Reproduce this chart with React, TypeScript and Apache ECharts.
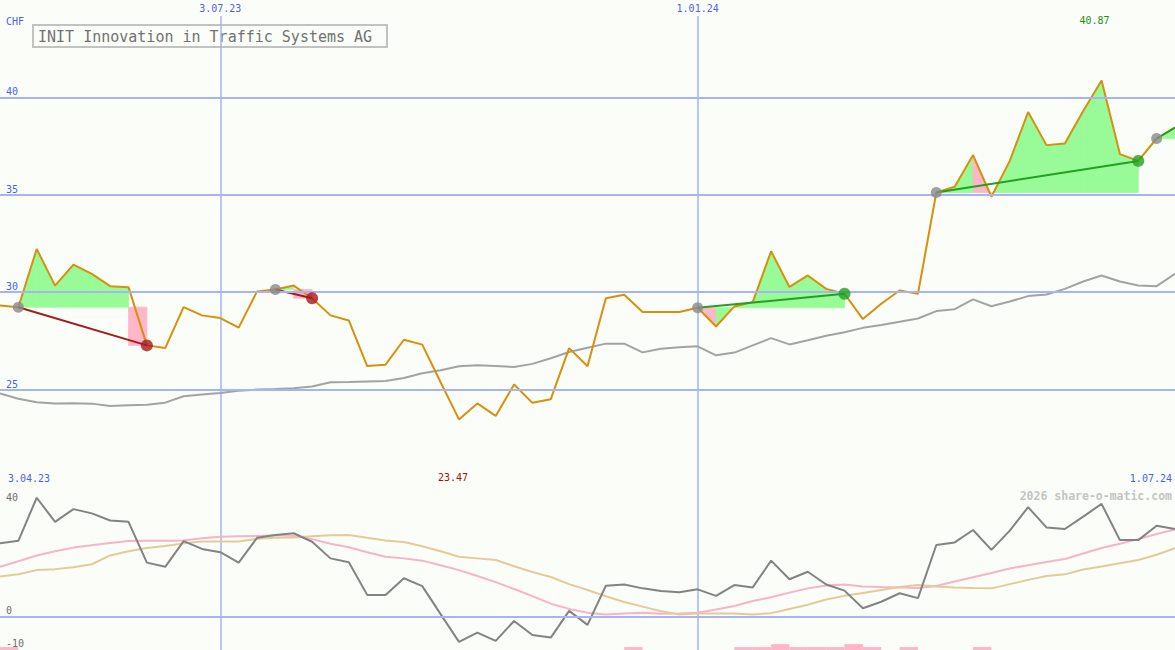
import React, { useEffect, useRef } from "react";
import * as echarts from "echarts";

const dates = ["10.04.23","17.04.23","24.04.23","1.05.23","8.05.23","15.05.23","22.05.23","29.05.23","5.06.23","12.06.23","19.06.23","26.06.23","3.07.23","10.07.23","17.07.23","24.07.23","31.07.23","7.08.23","14.08.23","21.08.23","28.08.23","4.09.23","11.09.23","18.09.23","25.09.23","2.10.23","9.10.23","16.10.23","23.10.23","30.10.23","6.11.23","13.11.23","20.11.23","27.11.23","4.12.23","11.12.23","18.12.23","25.12.23","1.01.24","8.01.24","15.01.24","22.01.24","29.01.24","5.02.24","12.02.24","19.02.24","26.02.24","4.03.24","11.03.24","18.03.24","25.03.24","1.04.24","8.04.24","15.04.24","22.04.24","29.04.24","6.05.24","13.05.24","20.05.24","27.05.24","3.06.24","10.06.24","17.06.24","24.06.24","1.07.24"];

const price = [29.32,29.23,32.22,30.34,31.42,30.94,30.31,30.26,27.27,27.13,
  29.23,28.81,28.67,28.18,30.04,30.14,30.34,29.69,28.81,28.55,
  26.21,26.28,27.56,27.31,25.38,23.47,24.29,23.65,25.26,24.32,
  24.51,27.13,26.20,29.69,29.87,28.98,28.98,28.98,29.20,28.24,
  29.27,29.49,32.10,30.27,30.86,30.17,29.92,28.62,29.41,30.09,
  29.92,35.12,35.41,37.04,34.90,36.74,39.25,37.55,37.63,39.30,
  40.87,37.09,36.74,37.89,38.45];

const movingAvg = [24.80,24.53,24.35,24.29,24.30,24.28,24.16,24.20,24.22,24.33,
  24.66,24.75,24.83,24.94,25.00,25.03,25.07,25.16,25.38,25.39,
  25.42,25.44,25.60,25.84,25.99,26.20,26.25,26.21,26.16,26.32,
  26.61,26.93,27.15,27.36,27.36,26.91,27.10,27.18,27.22,26.76,
  26.90,27.27,27.64,27.32,27.53,27.76,27.94,28.17,28.32,28.48,
  28.65,29.03,29.13,29.63,29.28,29.52,29.80,29.88,30.17,30.55,
  30.86,30.55,30.34,30.31,30.94];

const oscGray = [22.4,23.2,36.4,29.0,32.9,31.6,29.4,29.0,16.5,15.2,
  23.1,20.7,19.7,16.5,24.1,25.0,25.5,22.9,17.8,16.6,
  6.6,6.6,11.7,9.3,0.7,-7.8,-5.0,-7.5,-1.4,-5.7,
  -6.5,1.7,-2.6,9.4,9.8,8.6,7.8,7.4,8.3,6.3,
  9.6,8.9,17.1,11.4,13.7,9.8,7.9,2.5,4.5,7.1,
  5.6,21.9,22.7,26.5,20.4,26.3,33.5,27.3,26.8,30.6,
  34.5,23.4,23.4,27.8,26.8];

const oscPink = [15.2,16.9,18.7,20.0,21.1,21.8,22.5,23.1,23.2,23.2,
  23.3,24.0,24.4,24.6,24.7,24.9,24.7,23.7,22.3,21.2,
  19.7,18.3,17.8,17.1,15.7,14.2,12.4,10.5,8.4,6.2,
  3.9,2.3,1.1,0.6,0.9,1.1,0.8,0.9,1.1,2.1,
  3.2,4.7,5.9,7.3,8.6,9.5,9.8,9.2,9.0,8.9,
  8.7,9.3,10.7,12.0,13.3,14.7,15.7,16.7,17.6,19.3,
  21.0,22.3,23.7,25.3,26.7];

const oscTan = [12.2,12.9,14.2,14.5,15.1,16.0,18.7,20.0,21.0,21.6,
  22.4,23.0,23.0,23.0,23.8,24.1,24.2,24.6,24.9,25.0,
  24.1,23.3,22.8,21.5,20.0,18.3,17.8,17.3,15.4,13.6,
  12.1,9.9,8.1,6.2,4.4,3.0,1.6,0.6,0.9,0.9,
  0.9,0.6,1.0,2.3,3.6,5.2,6.3,7.2,8.1,9.0,
  9.6,9.2,8.9,8.7,8.6,9.9,11.2,12.4,12.9,14.4,
  15.3,16.3,17.3,18.9,20.9];

const barBands = [0, 34, 40, 41, 42, 43, 44, 45, 46, 47, 49, 53];
const barTops = [-9.4, -9.4, -9.4, -9.4, -8.5, -9.4, -9.4, -9.4, -8.5, -9.4, -9.4, -9.4];

const tradeEntry = [1, 15, 38, 51, 63];
const tradeExit = [8, 17, 46, 62, 64];
const tradeClosed = [true, true, true, true, false];

const upperTicks = [25, 30, 35, 40];
const lowerTicks = [0, -10];
const markedDates = ["3.07.23", "1.01.24"];

const BG = "#fbfdf8";
const GRID = "#a7b3f2";
const SEP = "#7787ea";
const BLUE = "#4d5ff0";
const MONO = "DejaVu Sans Mono";
const PRICE = "#d8900c";
const MA = "#a3a3a3";
const OSC = "#838383";
const PINKLINE = "#f8b3c9";
const TAN = "#e3cb99";
const GREENFILL = "#98fb98";
const PINKFILL = "#ffb6c8";
const RED = "#a51c1c";
const GREEN = "#22a022";
const DOTGRAY = "#8a8a8a";

function buildOption() {
  const fillSegments: number[][] = [];
  tradeEntry.forEach((entry, t) => {
    const exit = tradeExit[t];
    const base = price[entry];
    for (let i = entry; i < exit; i++) {
      const good = price[i + 1] >= base ? 1 : 0;
      const rect = i + 1 === exit && tradeClosed[t] && price[exit] < base ? 1 : 0;
      fillSegments.push([i, price[i], price[i + 1], base, good, rect]);
    }
  });

  const trendSeries = tradeEntry.map((entry, t) => {
    const exit = tradeExit[t];
    const win = price[exit] >= price[entry];
    return {
      type: "line",
      xAxisIndex: 0,
      yAxisIndex: 0,
      data: [[entry, price[entry]], [exit, price[exit]]],
      symbol: "none",
      lineStyle: { color: win ? GREEN : RED, width: 2 },
      z: 4,
      silent: true,
    };
  });

  const entryDots = tradeEntry.map((e) => [e, price[e]]);
  const lossDots: number[][] = [];
  const winDots: number[][] = [];
  tradeEntry.forEach((entry, t) => {
    if (!tradeClosed[t]) return;
    const exit = tradeExit[t];
    (price[exit] >= price[entry] ? winDots : lossDots).push([exit, price[exit]]);
  });

  const bars = barBands.map((b, k) => [b, barTops[k]]);

  const catAxisBase = {
    type: "category",
    data: dates,
    boundaryGap: false,
    axisTick: { show: false },
  };

  return {
    animation: false,
    backgroundColor: BG,
    textStyle: { fontFamily: MONO },
    grid: [
      { left: 0, right: 0, top: 0, height: 487 },
      { left: 0, right: 0, top: 486, height: 163 },
      { left: 0, right: 0, top: 16, height: 634 },
    ],
    xAxis: [
      {
        ...catAxisBase,
        gridIndex: 0,
        position: "top",
        axisLine: { show: false },
        splitLine: { show: false },
        axisLabel: {
          inside: true,
          margin: 0,
          interval: (idx: number, val: string) => markedDates.includes(val),
          color: BLUE,
          fontSize: 10,
          lineHeight: 10,
          fontFamily: MONO,
          padding: [3, 2, 3, 2],
        },
      },
      {
        ...catAxisBase,
        gridIndex: 1,
        position: "top",
        axisLine: { show: true, lineStyle: { color: SEP, width: 2 } },
        splitLine: { show: false },
        axisLabel: { show: false },
      },
      {
        ...catAxisBase,
        gridIndex: 2,
        axisLine: { show: false },
        axisLabel: { show: false },
        splitLine: {
          show: true,
          interval: (idx: number, val: string) => markedDates.includes(val),
          lineStyle: { color: GRID, width: 1.5 },
        },
      },
    ],
    yAxis: [
      {
        type: "value",
        gridIndex: 0,
        min: 20,
        max: 45,
        interval: 5,
        axisLine: { show: false },
        axisTick: { show: false },
        splitLine: { show: false },
        axisLabel: {
          inside: true,
          margin: 6,
          verticalAlign: "bottom",
          lineHeight: 11,
          color: BLUE,
          fontSize: 10,
          fontFamily: MONO,
          formatter: (v: number) => (upperTicks.includes(v) ? String(v) : ""),
        },
      },
      {
        type: "value",
        gridIndex: 1,
        min: -10,
        max: 40,
        interval: 10,
        axisLine: { show: false },
        axisTick: { show: false },
        splitLine: { show: false },
        axisLabel: {
          inside: true,
          margin: 6,
          verticalAlign: "bottom",
          lineHeight: 11,
          color: "#6e6e6e",
          fontSize: 10,
          fontFamily: MONO,
          formatter: (v: number) => (lowerTicks.includes(v) ? String(v) : ""),
        },
      },
      { type: "value", gridIndex: 2, min: 0, max: 1, show: false },
    ],
    series: [
      {
        name: "ma",
        type: "line",
        xAxisIndex: 0,
        yAxisIndex: 0,
        data: movingAvg,
        symbol: "none",
        lineStyle: { color: MA, width: 2 },
        z: 1,
        markLine: {
          silent: true,
          symbol: ["none", "none"],
          label: { show: false },
          lineStyle: { color: GRID, width: 2, type: "solid" },
          data: upperTicks.map((v) => ({ yAxis: v })),
        },
      },
      {
        name: "fills",
        type: "custom",
        xAxisIndex: 0,
        yAxisIndex: 0,
        data: fillSegments,
        encode: { x: 0, y: 1 },
        z: 2,
        silent: true,
        renderItem: (params: any, api: any) => {
          const i = api.value(0);
          const v0 = api.value(1);
          const v1 = api.value(2);
          const base = api.value(3);
          const good = api.value(4);
          const rect = api.value(5);
          const p0 = api.coord([i, v0]);
          const p1 = api.coord([i + 1, v1]);
          const b0 = api.coord([i, base]);
          const b1 = api.coord([i + 1, base]);
          const pts = rect ? [b0, [b0[0], p1[1]], p1, b1] : [b0, p0, p1, b1];
          const col = good ? GREENFILL : PINKFILL;
          return {
            type: "polygon",
            shape: { points: pts },
            style: { fill: col, stroke: col, lineWidth: 0.8 },
          };
        },
      },
      {
        name: "price",
        type: "line",
        xAxisIndex: 0,
        yAxisIndex: 0,
        data: price,
        symbol: "none",
        lineStyle: { color: PRICE, width: 2 },
        z: 3,
        markPoint: {
          symbol: "circle",
          symbolSize: 1,
          itemStyle: { color: "rgba(0,0,0,0)" },
          label: { show: true, position: "inside", fontSize: 10, fontFamily: MONO },
          data: [
            { type: "max", label: { offset: [-7, -60], color: "#1a921a" } },
            { type: "min", label: { offset: [-6, 58], color: "#a01010" } },
          ],
        },
      },
      ...trendSeries,
      {
        type: "scatter",
        xAxisIndex: 0,
        yAxisIndex: 0,
        data: entryDots,
        symbolSize: 11,
        itemStyle: { color: DOTGRAY },
        z: 5,
        silent: true,
      },
      {
        type: "scatter",
        xAxisIndex: 0,
        yAxisIndex: 0,
        data: lossDots,
        symbolSize: 12,
        itemStyle: { color: RED },
        z: 5,
        silent: true,
      },
      {
        type: "scatter",
        xAxisIndex: 0,
        yAxisIndex: 0,
        data: winDots,
        symbolSize: 12,
        itemStyle: { color: GREEN },
        z: 5,
        silent: true,
      },
      {
        name: "oscPink",
        type: "line",
        xAxisIndex: 1,
        yAxisIndex: 1,
        data: oscPink,
        symbol: "none",
        lineStyle: { color: PINKLINE, width: 2 },
        z: 2,
        markLine: {
          silent: true,
          symbol: ["none", "none"],
          label: { show: false },
          lineStyle: { color: GRID, width: 2, type: "solid" },
          data: [{ yAxis: 0 }],
        },
      },
      {
        name: "oscTan",
        type: "line",
        xAxisIndex: 1,
        yAxisIndex: 1,
        data: oscTan,
        symbol: "none",
        lineStyle: { color: TAN, width: 2 },
        z: 2,
      },
      {
        name: "oscGray",
        type: "line",
        xAxisIndex: 1,
        yAxisIndex: 1,
        data: oscGray,
        symbol: "none",
        lineStyle: { color: OSC, width: 2 },
        z: 3,
      },
      {
        name: "bars",
        type: "custom",
        xAxisIndex: 1,
        yAxisIndex: 1,
        data: bars,
        encode: { x: 0, y: 1 },
        clip: false,
        silent: true,
        renderItem: (params: any, api: any) => {
          const i = api.value(0);
          const top = api.value(1);
          const a = api.coord([i, top]);
          const b = api.coord([i + 1, -10.4]);
          return {
            type: "rect",
            shape: { x: a[0], y: a[1], width: b[0] - a[0], height: b[1] - a[1] },
            style: { fill: PINKFILL },
          };
        },
      },
    ],
    graphic: [
      {
        type: "text",
        x: 6,
        y: 21,
        style: { text: "CHF", fill: BLUE, font: `10px "${MONO}"`, verticalAlign: "middle" },
      },
      {
        type: "rect",
        shape: { x: 33, y: 25, width: 354, height: 22 },
        style: { fill: BG, stroke: "#c2c2c2", lineWidth: 2 },
      },
      {
        type: "text",
        x: 38,
        y: 36.5,
        style: {
          text: "INIT Innovation in Traffic Systems AG",
          fill: "#727272",
          font: `15px "${MONO}"`,
          verticalAlign: "middle",
        },
      },
      {
        type: "text",
        x: 8,
        y: 478,
        style: { text: "3.04.23", fill: BLUE, font: `10px "${MONO}"`, verticalAlign: "middle" },
      },
      {
        type: "text",
        x: 1172,
        y: 478,
        style: { text: "1.07.24", fill: BLUE, font: `10px "${MONO}"`, align: "right", verticalAlign: "middle" },
      },
      {
        type: "text",
        x: 1172,
        y: 496,
        style: {
          text: "2026 share-o-matic.com",
          fill: "#c4c4c4",
          font: `bold 11.5px "${MONO}"`,
          align: "right",
          verticalAlign: "middle",
        },
      },
      {
        type: "text",
        x: 6,
        y: 497,
        style: { text: "40", fill: "#6e6e6e", font: `10px "${MONO}"`, verticalAlign: "middle" },
      },
    ],
  };
}

export default function App() {
  const ref = useRef<HTMLDivElement>(null);
  useEffect(() => {
    if (!ref.current) return;
    const chart = echarts.init(ref.current, null, { renderer: "svg" });
    chart.setOption(buildOption() as any);
    return () => chart.dispose();
  }, []);
  return (
    <div
      ref={ref}
      style={{ position: "fixed", left: 0, top: 0, width: 1175, height: 650 }}
    />
  );
}
